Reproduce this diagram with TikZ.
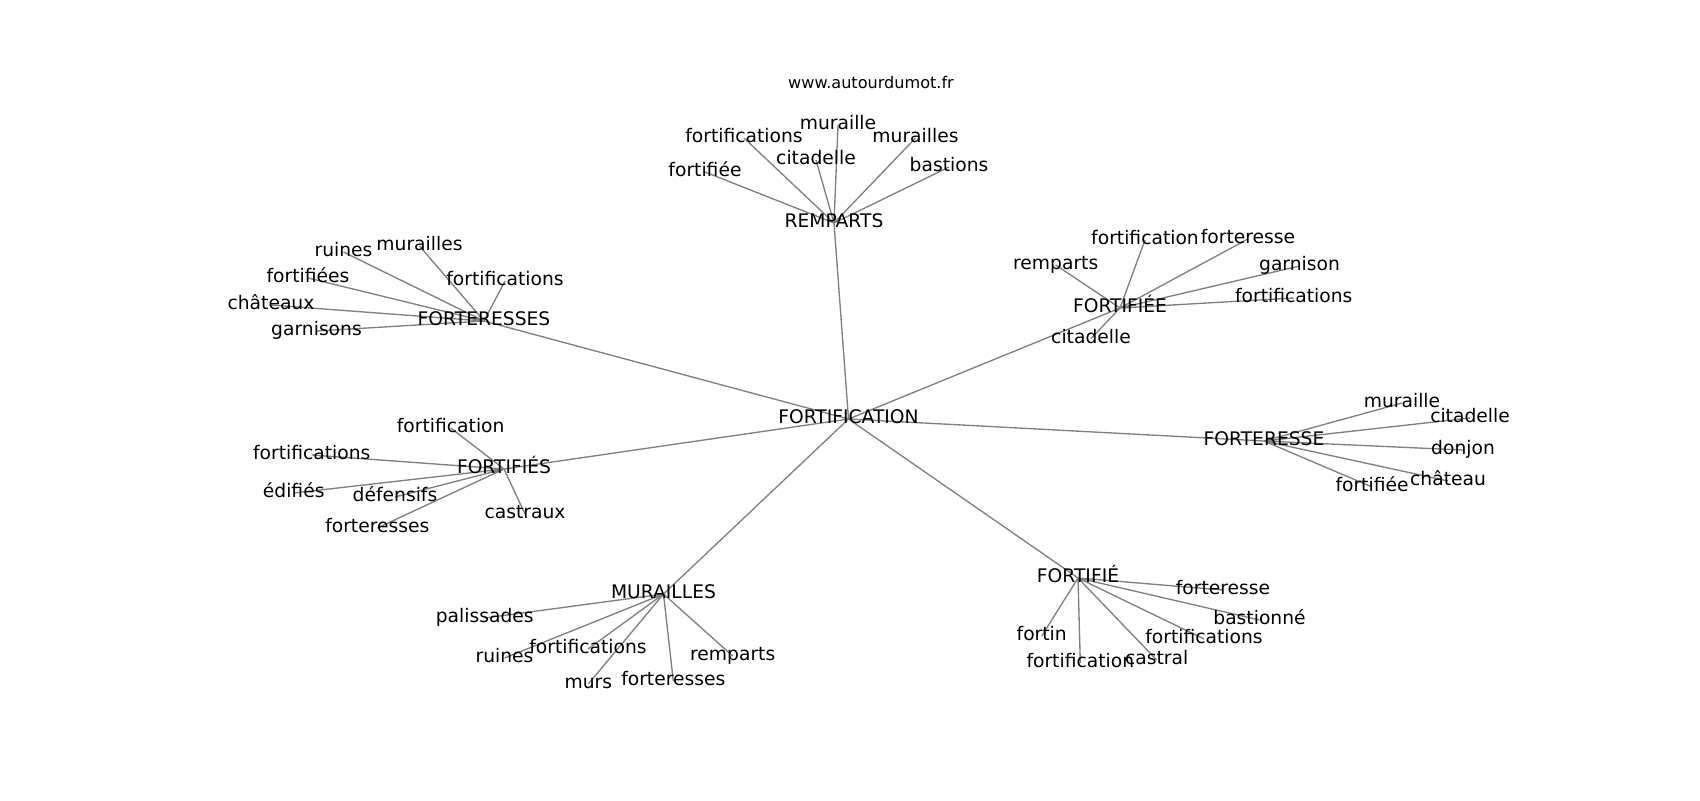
\documentclass[tikz,border=0pt]{standalone}
\usepackage{fontspec}
\setmainfont{DejaVu Sans}
\usetikzlibrary{backgrounds}

\begin{document}
\begin{tikzpicture}[x=0.5pt, y=-0.5pt,
  word/.style={font=\fontsize{9.35}{11}\selectfont, text height=7.1pt, text depth=2.2pt, inner sep=0pt},
  link/.style={draw=gray, line width=0.67pt}]
\useasboundingbox (0,0) rectangle (1700,800);
\node[anchor=base, font=\fontsize{8.05}{10}\selectfont] (URL) at (871,88) {www.autourdumot.fr};
% centre
\node[word] (FN) at (848.5,419) {FORTIFICATION};
% REMPARTS
\node[word] (RE) at (834,223) {REMPARTS};
\node[word] (RE1) at (705,172) {fortifiée};
\node[word] (RE2) at (744,138) {fortifications};
\node[word] (RE3) at (816,160) {citadelle};
\node[word] (RE4) at (838,125) {muraille};
\node[word] (RE5) at (915.5,138) {murailles};
\node[word] (RE6) at (949,167) {bastions};
% FORTERESSES
\node[word] (FS) at (484,321) {FORTERESSES};
\node[word] (FS1) at (343.5,252) {ruines};
\node[word] (FS2) at (419.5,246) {murailles};
\node[word] (FS3) at (308,278) {fortifiées};
\node[word] (FS4) at (505,281) {fortifications};
\node[word] (FS5) at (271,305) {châteaux};
\node[word] (FS6) at (316.5,331) {garnisons};
% FORTIFIEE
\node[word] (FE) at (1120,308) {FORTIFIÉE};
\node[word] (FE1) at (1055.7,265) {remparts};
\node[word] (FE2) at (1145,240) {fortification};
\node[word] (FE3) at (1248,239) {forteresse};
\node[word] (FE4) at (1299.5,266) {garnison};
\node[word] (FE5) at (1293.7,298) {fortifications};
\node[word] (FE6) at (1091,338.5) {citadelle};
% FORTERESSE
\node[word] (FT) at (1264,441) {FORTERESSE};
\node[word] (FT1) at (1402,403) {muraille};
\node[word] (FT2) at (1470,418) {citadelle};
\node[word] (FT3) at (1463,450) {donjon};
\node[word] (FT4) at (1448,481) {château};
\node[word] (FT5) at (1372,487) {fortifiée};
% FORTIFIES
\node[word] (FI) at (504,469) {FORTIFIÉS};
\node[word] (FI1) at (450.7,428) {fortification};
\node[word] (FI2) at (311.7,455) {fortifications};
\node[word] (FI3) at (293.7,493) {édifiés};
\node[word] (FI4) at (395,497) {défensifs};
\node[word] (FI5) at (377.3,528) {forteresses};
\node[word] (FI6) at (525,514) {castraux};
% MURAILLES
\node[word] (MU) at (663.5,594) {MURAILLES};
\node[word] (MU1) at (484.7,618) {palissades};
\node[word] (MU2) at (504.5,658) {ruines};
\node[word] (MU3) at (588,649) {fortifications};
\node[word] (MU4) at (588.3,684) {murs};
\node[word] (MU5) at (673.3,681) {forteresses};
\node[word] (MU6) at (732.7,656) {remparts};
% FORTIFIE
\node[word] (FO) at (1078,578) {FORTIFIÉ};
\node[word] (FO1) at (1223,590) {forteresse};
\node[word] (FO2) at (1259.5,620) {bastionné};
\node[word] (FO3) at (1204,639) {fortifications};
\node[word] (FO4) at (1156.7,660) {castral};
\node[word] (FO5) at (1080.3,663) {fortification};
\node[word] (FO6) at (1041.7,636) {fortin};
\begin{scope}[on background layer]
\draw[link] (FN.center) -- (RE.center) (FN.center) -- (FS.center) (FN.center) -- (FE.center)
  (FN.center) -- (FT.center) (FN.center) -- (FI.center) (FN.center) -- (MU.center) (FN.center) -- (FO.center);
\draw[link] (RE.center) -- (RE1.center) (RE.center) -- (RE2.center) (RE.center) -- (RE3.center)
  (RE.center) -- (RE4.center) (RE.center) -- (RE5.center) (RE.center) -- (RE6.center);
\draw[link] (FS.center) -- (FS1.center) (FS.center) -- (FS2.center) (FS.center) -- (FS3.center)
  (FS.center) -- (FS4.center) (FS.center) -- (FS5.center) (FS.center) -- (FS6.center);
\draw[link] (FE.center) -- (FE1.center) (FE.center) -- (FE2.center) (FE.center) -- (FE3.center)
  (FE.center) -- (FE4.center) (FE.center) -- (FE5.center) (FE.center) -- (FE6.center);
\draw[link] (FT.center) -- (FT1.center) (FT.center) -- (FT2.center) (FT.center) -- (FT3.center)
  (FT.center) -- (FT4.center) (FT.center) -- (FT5.center);
\draw[link] (FI.center) -- (FI1.center) (FI.center) -- (FI2.center) (FI.center) -- (FI3.center)
  (FI.center) -- (FI4.center) (FI.center) -- (FI5.center) (FI.center) -- (FI6.center);
\draw[link] (MU.center) -- (MU1.center) (MU.center) -- (MU2.center) (MU.center) -- (MU3.center)
  (MU.center) -- (MU4.center) (MU.center) -- (MU5.center) (MU.center) -- (MU6.center);
\draw[link] (FO.center) -- (FO1.center) (FO.center) -- (FO2.center) (FO.center) -- (FO3.center)
  (FO.center) -- (FO4.center) (FO.center) -- (FO5.center) (FO.center) -- (FO6.center);
\end{scope}
\end{tikzpicture}
\end{document}
